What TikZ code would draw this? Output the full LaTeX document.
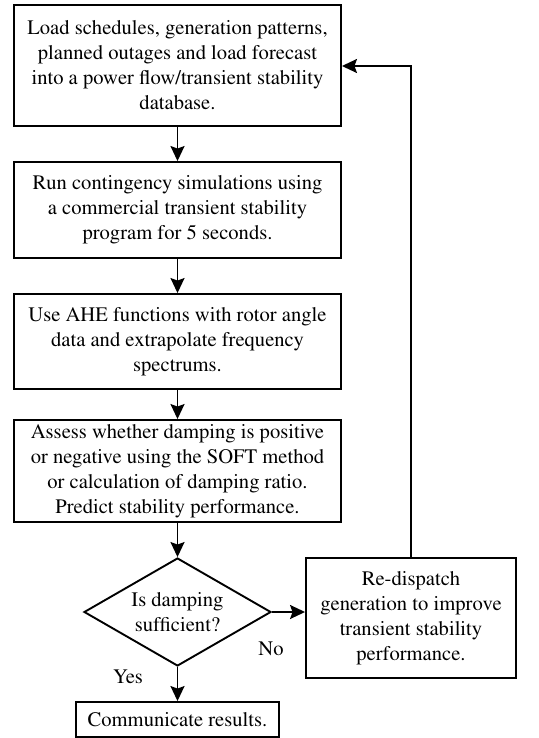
\documentclass[tikz,border=0pt]{standalone}
\usepackage[T1]{fontenc}
\usepackage{mathptmx}
\usetikzlibrary{shapes.geometric,arrows.meta}
\begin{document}
\begin{tikzpicture}[x=1pt,y=-1pt,
  every node/.style={font=\fontsize{20.6}{25}\selectfont},
  box/.style={draw,line width=1.9pt,align=center,inner sep=0pt},
  dec/.style={draw,diamond,line width=1.9pt,align=center,inner sep=0pt,aspect=1.73,minimum width=187pt,minimum height=108pt},
  arr/.style={line width=1.9pt,-{Stealth[length=15pt,width=14pt,inset=2.5pt]}},
  lbl/.style={inner sep=0pt}]
\useasboundingbox (0,0) rectangle (538,738);
\node[box,minimum width=327pt,minimum height=121pt] (b1) at (177.5,65.5)
  {Load schedules, generation patterns,\\planned outages and load forecast\\into a power flow/transient stability\\database.};
\node[box,minimum width=327pt,minimum height=96pt] (b2) at (177.5,210)
  {Run contingency simulations using\\a commercial transient stability\\program for 5 seconds.};
\node[box,minimum width=327pt,minimum height=95pt] (b3) at (177.5,341.5)
  {Use AHE functions with rotor angle\\data and extrapolate frequency\\spectrums.};
\node[box,minimum width=327pt,minimum height=102pt] (b4) at (177.5,471)
  {Assess whether damping is positive\\or negative using the SOFT method\\or calculation of damping ratio.\\Predict stability performance.};
\node[dec] (d) at (177.5,612) {Is damping\\sufficient?};
\node[box,minimum width=210pt,minimum height=120pt] (r) at (411,618)
  {Re-dispatch\\generation to improve\\transient stability\\performance.};
\node[box,minimum width=203pt,minimum height=35pt] (c) at (177.5,719.5)
  {Communicate results.};
\draw[arr] (b1) -- (b2);
\draw[arr] (b2) -- (b3);
\draw[arr] (b3) -- (b4);
\draw[arr] (b4) -- (d);
\draw[arr] (d) -- (c);
\draw[arr] (d.east) -- (d.east -| r.west);
\coordinate (turn) at (411,66);
\draw[arr] (r.north) |- (b1.east |- turn);
\node[lbl] (no) at (271,649) {No};
\node[lbl] (yes) at (128,677) {Yes};
\end{tikzpicture}
\end{document}
